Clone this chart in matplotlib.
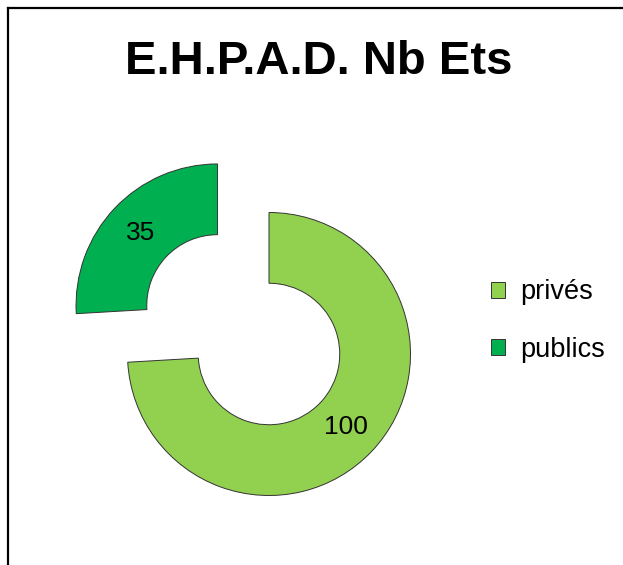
import matplotlib
matplotlib.use("Agg")
import matplotlib.pyplot as plt
from matplotlib.lines import Line2D

plt.rcParams['font.family'] = ['Liberation Sans', 'DejaVu Sans']

# data
title = "E.H.P.A.D. Nb Ets"
categories = ["privés", "publics"]
values = [100, 35]
colors = ["#92D050", "#00B050"]
explode = [0, 0.5]

W, H = 623, 565
R = 141.5            # outer radius in px
cx, cy = 269, 354    # donut centre in image px (y from top)

fig = plt.figure(figsize=(W / 100, H / 100), dpi=100)
ax = fig.add_axes([0, 0, 1, 1])

total = sum(values)
wedges, texts, autotexts = ax.pie(
    values, colors=colors, explode=explode, startangle=90, counterclock=False,
    radius=1, pctdistance=0.75,
    autopct=lambda p: f"{p * total / 100:.0f}",
    wedgeprops=dict(width=0.5, edgecolor="#333333", linewidth=0.7),
    textprops=dict(fontsize=19, color="black"))

ax.set_xlim(-cx / R, (W - cx) / R)
ax.set_ylim(-(H - cy) / R, cy / R)
ax.set_aspect("equal", adjustable="box")
ax.axis("off")

# legend
ax.legend(wedges, categories, loc="center left",
          bbox_to_anchor=(491 / W, 1 - 321 / H), bbox_transform=fig.transFigure,
          frameon=False, fontsize=19.5, borderpad=0, borderaxespad=0,
          handlelength=0.52, handleheight=0.52, handletextpad=0.55,
          labelspacing=1.15)

# title
fig.text(318.5 / W, 1 - 74 / H, title, ha="center", va="baseline",
         fontsize=34, fontweight="bold")

# chart frame (only top and left visible)
fig.add_artist(Line2D([7.5 / W, 7.5 / W], [0, 1 - 8 / H], color="black",
                      linewidth=1.6, transform=fig.transFigure))
fig.add_artist(Line2D([7.5 / W, 1], [1 - 8 / H, 1 - 8 / H], color="black",
                      linewidth=1.6, transform=fig.transFigure))

fig.savefig("out.png", dpi=100)
